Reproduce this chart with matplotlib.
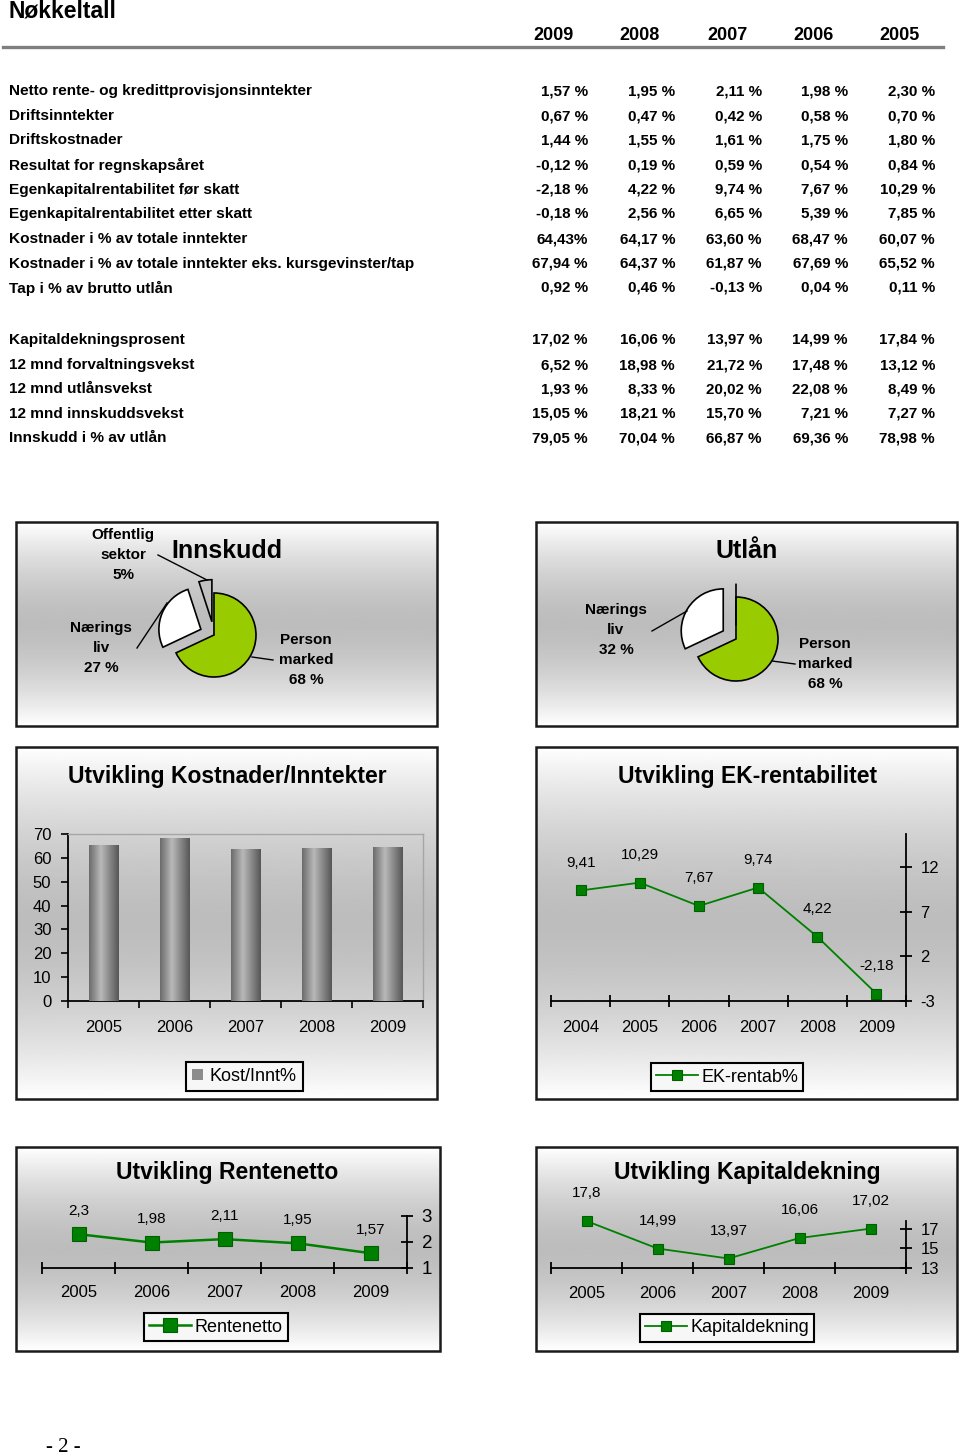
import numpy as np
import matplotlib
matplotlib.use("Agg")
import matplotlib.pyplot as plt
from matplotlib.patches import Rectangle
from matplotlib.lines import Line2D

# ---------------- data ----------------
header_years = ["2009", "2008", "2007", "2006", "2005"]

table_a_labels = [
    "Netto rente- og kredittprovisjonsinntekter",
    "Driftsinntekter",
    "Driftskostnader",
    "Resultat for regnskapsåret",
    "Egenkapitalrentabilitet før skatt",
    "Egenkapitalrentabilitet etter skatt",
    "Kostnader i % av totale inntekter",
    "Kostnader i % av totale inntekter eks. kursgevinster/tap",
    "Tap i % av brutto utlån",
]
table_a_values = [
    ["1,57 %", "1,95 %", "2,11 %", "1,98 %", "2,30 %"],
    ["0,67 %", "0,47 %", "0,42 %", "0,58 %", "0,70 %"],
    ["1,44 %", "1,55 %", "1,61 %", "1,75 %", "1,80 %"],
    ["-0,12 %", "0,19 %", "0,59 %", "0,54 %", "0,84 %"],
    ["-2,18 %", "4,22 %", "9,74 %", "7,67 %", "10,29 %"],
    ["-0,18 %", "2,56 %", "6,65 %", "5,39 %", "7,85 %"],
    ["64,43%", "64,17 %", "63,60 %", "68,47 %", "60,07 %"],
    ["67,94 %", "64,37 %", "61,87 %", "67,69 %", "65,52 %"],
    ["0,92 %", "0,46 %", "-0,13 %", "0,04 %", "0,11 %"],
]
table_b_labels = [
    "Kapitaldekningsprosent",
    "12 mnd forvaltningsvekst",
    "12 mnd utlånsvekst",
    "12 mnd innskuddsvekst",
    "Innskudd i % av utlån",
]
table_b_values = [
    ["17,02 %", "16,06 %", "13,97 %", "14,99 %", "17,84 %"],
    ["6,52 %", "18,98 %", "21,72 %", "17,48 %", "13,12 %"],
    ["1,93 %", "8,33 %", "20,02 %", "22,08 %", "8,49 %"],
    ["15,05 %", "18,21 %", "15,70 %", "7,21 %", "7,27 %"],
    ["79,05 %", "70,04 %", "66,87 %", "69,36 %", "78,98 %"],
]

innskudd_values = [68, 27, 5]
innskudd_labels = ["Person\nmarked\n68 %", "Nærings\nliv\n27 %", "Offentlig\nsektor\n5%"]
utlan_values = [68, 32, 0]
utlan_labels = ["Person\nmarked\n68 %", "Nærings\nliv\n32 %"]

cost_years = ["2005", "2006", "2007", "2008", "2009"]
cost_income = [65.52, 68.47, 63.60, 64.17, 64.43]

ek_years = ["2004", "2005", "2006", "2007", "2008", "2009"]
ek_values = [9.41, 10.29, 7.67, 9.74, 4.22, -2.18]

rn_years = ["2005", "2006", "2007", "2008", "2009"]
rn_values = [2.3, 1.98, 2.11, 1.95, 1.57]

kd_years = ["2005", "2006", "2007", "2008", "2009"]
kd_values = [17.8, 14.99, 13.97, 16.06, 17.02]

# ---------------- figure helpers ----------------
W, H, DPI = 960, 1456, 100
plt.rcParams["font.family"] = ["Liberation Sans", "DejaVu Sans"]
plt.rcParams["axes.unicode_minus"] = False
fig = plt.figure(figsize=(W / DPI, H / DPI), dpi=DPI)
fig.patch.set_facecolor("white")


def fx(x):
    return x / W


def fy(y):
    return 1 - y / H


def px_axes(x0, y0, x1, y1, **kw):
    return fig.add_axes([x0 / W, 1 - y1 / H, (x1 - x0) / W, (y1 - y0) / H], **kw)


def ftext(x, y, s, **kw):
    kw.setdefault("ha", "center")
    kw.setdefault("va", "center")
    return fig.text(fx(x), fy(y), s, **kw)


def fline(xs, ys, **kw):
    kw.setdefault("color", "black")
    kw.setdefault("lw", 1.0)
    fig.add_artist(Line2D([fx(v) for v in xs], [fy(v) for v in ys], **kw))


def panel(x0, y0, x1, y1):
    ax = px_axes(x0, y0, x1, y1)
    t = np.linspace(0, 1, 300)
    d = np.abs(t - 0.5) / 0.5
    g = 1.0 - 0.26 * (1 - d ** 1.6)
    img = np.repeat(g[:, None], 2, axis=1)
    ax.imshow(img, cmap="gray", vmin=0, vmax=1, aspect="auto",
              extent=[0, 1, 0, 1], origin="upper", interpolation="bilinear")
    ax.set_xlim(0, 1)
    ax.set_ylim(0, 1)
    ax.set_axis_off()
    ax.add_patch(Rectangle((0, 0), 1, 1, fill=False, lw=1.8, ec="#1a1a1a",
                           transform=ax.transAxes, clip_on=False))
    return ax


# ---------------- table ----------------
ftext(8, 11, "Nøkkeltall", ha="left", fontsize=16.5, fontweight="bold")
col_centers = [553, 640, 727, 814, 900]
col_right = [588, 675, 762, 848, 935]
for cx, yr in zip(col_centers, header_years):
    ftext(cx, 36, yr, fontsize=13, fontweight="bold")
fline([3, 943], [47, 47], color="#7f7f7f", lw=2.4)

rows_a_y = [91.5, 116.5, 140.5, 165, 190, 214, 239, 264, 288]
rows_b_y = [340, 365, 389, 414, 438]
for ys, labels, values in ((rows_a_y, table_a_labels, table_a_values),
                           (rows_b_y, table_b_labels, table_b_values)):
    for y, lab, vals in zip(ys, labels, values):
        ftext(9, y, lab, ha="left", fontsize=11.1, fontweight="bold")
        for xr, v in zip(col_right, vals):
            ftext(xr, y, v, ha="right", fontsize=10.9, fontweight="bold")

# ---------------- pie panels ----------------
GREEN_PIE = "#99cc00"


def pie_chart(cx, cy, values, colors, explode, r_px=42):
    s = 160
    ax = px_axes(cx - s / 2, cy - s / 2, cx + s / 2, cy + s / 2)
    ax.pie(values, colors=colors, explode=explode, startangle=90,
           counterclock=False, radius=1,
           wedgeprops=dict(edgecolor="black", linewidth=1.2))
    lim = (s / 2) / r_px
    ax.set_xlim(-lim, lim)
    ax.set_ylim(-lim, lim)
    ax.set_axis_off()
    return ax


panel(16, 522, 437, 726)
pie_chart(214, 635, innskudd_values, [GREEN_PIE, "white", "#c0c0c0"], [0, 0.34, 0.32])
ftext(227, 551, "Innskudd", fontsize=18, fontweight="bold")
lab_kw = dict(fontsize=11, fontweight="bold", linespacing=1.55)
ftext(306, 660, innskudd_labels[0], **lab_kw)
ftext(101, 648, innskudd_labels[1], **lab_kw)
ftext(123, 555, innskudd_labels[2], **lab_kw)
fline([252, 273], [657, 660])
fline([137, 167], [648, 603])
fline([158, 207], [555, 580])

panel(536, 522, 957, 726)
pie_chart(736, 639, utlan_values, [GREEN_PIE, "white", "#c0c0c0"], [0, 0.36, 0.32])
ftext(747, 551, "Utlån", fontsize=18, fontweight="bold")
ftext(825, 664, utlan_labels[0], **lab_kw)
ftext(616, 630, utlan_labels[1], **lab_kw)
fline([772, 795], [661, 664])
fline([652, 687], [631, 611])

# ---------------- bar chart ----------------
panel(16, 747, 437, 1099)
ftext(227, 777, "Utvikling Kostnader/Inntekter", fontsize=16.5, fontweight="bold")
ax = px_axes(68, 834, 423, 1001)
ax.set_facecolor("none")
xb = np.arange(len(cost_years))
bars = ax.bar(xb, cost_income, width=0.41, color="#8c8c8c", zorder=2)
prof = np.concatenate([np.linspace(0.42, 0.72, 40), np.linspace(0.72, 0.34, 60)])
grad = np.repeat(prof[None, :], 2, axis=0)
for b in bars:
    im = ax.imshow(grad, cmap="gray", vmin=0, vmax=1, aspect="auto",
                   extent=[b.get_x(), b.get_x() + b.get_width(), 0, b.get_height()],
                   zorder=3, interpolation="bilinear")
    im.set_clip_path(b)
ax.set_xlim(-0.5, len(cost_years) - 0.5)
ax.set_ylim(0, 70)
ax.set_yticks(np.arange(0, 71, 10))
ax.set_xticks(xb)
ax.set_xticklabels(cost_years)
ax.set_xticks(np.arange(-0.5, len(cost_years)), minor=True)
ax.tick_params(axis="x", which="major", length=0, pad=14, labelsize=12)
ax.tick_params(axis="x", which="minor", length=5, width=1.2, direction="out")
ax.tick_params(axis="y", length=5, width=1.2, direction="out", pad=7, labelsize=12)
for side in ("top", "right"):
    ax.spines[side].set_color("#a6a6a6")
    ax.spines[side].set_linewidth(1.0)
for side in ("left", "bottom"):
    ax.spines[side].set_color("black")
    ax.spines[side].set_linewidth(1.3)
leg = ax.legend([bars[0]], ["Kost/Innt%"], loc="center",
                bbox_to_anchor=(fx(244.5), fy(1076.5)), bbox_transform=fig.transFigure,
                fontsize=13, fancybox=False, edgecolor="black", facecolor="#f7f7f7",
                framealpha=1, handlelength=0.6, handleheight=0.6, borderpad=0.35,
                handletextpad=0.35)
leg.get_frame().set_linewidth(1.5)

# ---------------- line chart helper ----------------
LINE_GREEN = "#008000"


def line_chart(box, years, values, ylim, yticks, ms, lw, ytick_fs, lab_off, xpad,
               legend_label, legend_center):
    ax = px_axes(*box)
    ax.set_facecolor("none")
    xs = np.arange(len(years))
    ln, = ax.plot(xs, values, color=LINE_GREEN, lw=lw, marker="s", ms=ms,
                  mfc=LINE_GREEN, mec="#006000", mew=0.8, zorder=3, clip_on=False)
    for xv, v in zip(xs, values):
        ax.annotate(f"{v:g}".replace(".", ","), (xv, v), xytext=(0, lab_off),
                    textcoords="offset points", ha="center", va="center", fontsize=11)
    ax.set_xlim(-0.5, len(years) - 0.5)
    ax.set_ylim(*ylim)
    ax.set_xticks(xs)
    ax.set_xticklabels(years)
    ax.set_xticks(np.arange(-0.5, len(years)), minor=True)
    ax.tick_params(axis="x", which="major", length=0, pad=xpad, labelsize=12)
    ax.tick_params(axis="x", which="minor", length=9, width=1.3, direction="inout")
    ax.yaxis.tick_right()
    ax.set_yticks(yticks)
    ax.tick_params(axis="y", length=9, width=1.3, direction="inout", pad=6,
                   labelsize=ytick_fs)
    for side in ("left", "top"):
        ax.spines[side].set_visible(False)
    for side in ("right", "bottom"):
        ax.spines[side].set_color("black")
        ax.spines[side].set_linewidth(1.3)
    leg = ax.legend([ln], [legend_label], loc="center",
                    bbox_to_anchor=(fx(legend_center[0]), fy(legend_center[1])),
                    bbox_transform=fig.transFigure, fontsize=13, fancybox=False,
                    edgecolor="black", facecolor="#f7f7f7", framealpha=1,
                    handlelength=2.3, borderpad=0.3, handletextpad=0.2)
    leg.get_frame().set_linewidth(1.5)
    return ax


# EK-rentabilitet
panel(536, 747, 957, 1099)
ftext(748, 777, "Utvikling EK-rentabilitet", fontsize=16.5, fontweight="bold")
line_chart((551, 834, 906, 1001), ek_years, ek_values, (-3, 15.75), [-3, 2, 7, 12],
           ms=7, lw=1.3, ytick_fs=12, lab_off=20, xpad=14,
           legend_label="EK-rentab%", legend_center=(727, 1077))

# Rentenetto
panel(16, 1147, 440, 1351)
ftext(227, 1173, "Utvikling Rentenetto", fontsize=16.5, fontweight="bold")
line_chart((42, 1216, 407, 1268), rn_years, rn_values, (1, 3), [1, 2, 3],
           ms=9.5, lw=1.8, ytick_fs=13.5, lab_off=17, xpad=12,
           legend_label="Rentenetto", legend_center=(216, 1327))

# Kapitaldekning
panel(536, 1147, 957, 1351)
ftext(747, 1173, "Utvikling Kapitaldekning", fontsize=16.5, fontweight="bold")
line_chart((551, 1221, 906, 1268), kd_years, kd_values, (13, 17.8), [13, 15, 17],
           ms=7, lw=1.3, ytick_fs=12, lab_off=20, xpad=13,
           legend_label="Kapitaldekning", legend_center=(727, 1328))

# footer
ftext(63, 1447, "- 2 -", fontsize=15, family=["Liberation Serif", "DejaVu Serif"])

fig.savefig("out.png", dpi=DPI, facecolor="white")
